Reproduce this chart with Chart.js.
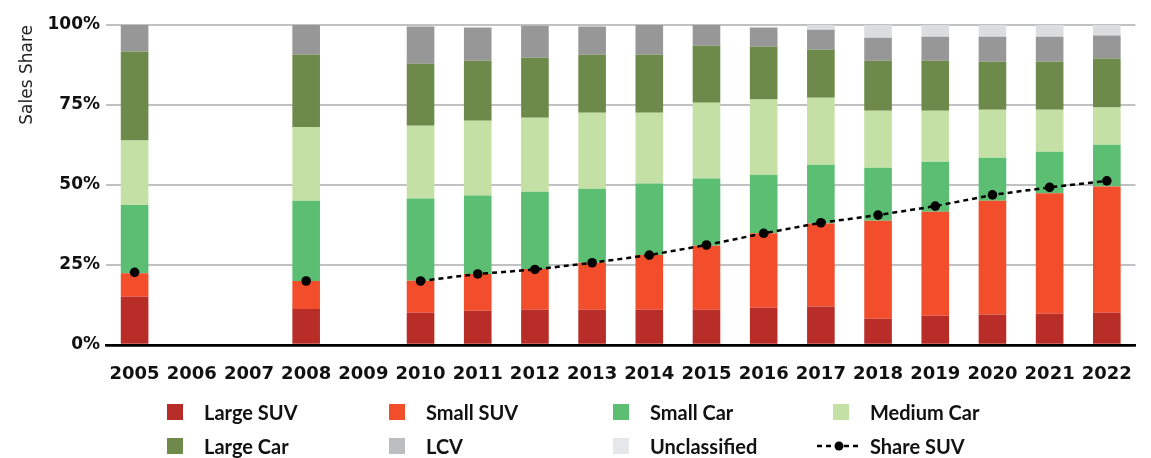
<!DOCTYPE html>
<html><head><meta charset="utf-8">
<script src="https://cdn.jsdelivr.net/npm/chart.js@4.4.0/dist/chart.umd.min.js"></script>
<style>
html,body{margin:0;padding:0;background:#fff;}
#wrap{position:relative;width:1151px;height:458px;overflow:hidden;}
#c{position:absolute;left:0;top:0;}
.li{position:absolute;font-family:Lato,sans-serif;font-weight:700;font-size:20px;color:#111;white-space:nowrap;line-height:20px;}
.box{position:absolute;width:16px;height:16px;}
</style></head><body>
<div id="wrap"><canvas id="c" width="1151" height="458"></canvas><div id="legend"></div></div>
<script>
const years = ['2005','2006','2007','2008','2009','2010','2011','2012','2013','2014','2015','2016','2017','2018','2019','2020','2021','2022'];
const largeSUV     = [15.1, null, null, 11.25, null, 10.1, 10.7, 11.0, 11.0, 11.0, 11.0, 11.65, 12.0, 8.2, 9.15, 9.5, 9.8, 10.1];
const smallSUV     = [7.3, null, null, 8.75, null, 10.0, 11.5, 12.75, 14.7, 17.1, 20.0, 23.25, 26.0, 30.6, 32.5, 35.6, 37.6, 39.4];
const smallCar     = [21.35, null, null, 25.1, null, 25.7, 24.5, 24.15, 23.1, 22.4, 21.0, 18.3, 18.3, 16.6, 15.65, 13.4, 13.0, 13.1];
const mediumCar    = [20.15, null, null, 23.0, null, 22.7, 23.4, 23.1, 23.8, 22.1, 23.7, 23.5, 21.0, 17.8, 15.9, 15.0, 13.1, 11.6];
const largeCar     = [27.8, null, null, 22.7, null, 19.4, 18.7, 18.8, 18.1, 18.1, 17.8, 16.5, 15.0, 15.6, 15.6, 15.0, 15.0, 15.3];
const lcv          = [8.3, null, null, 9.2, null, 11.6, 10.4, 10.0, 8.8, 9.3, 6.5, 6.0, 6.2, 7.2, 7.5, 7.8, 7.8, 7.2];
const unclassified = [0, null, null, 0, null, 0, 0, 0, 0, 0, 0, 0, 1.5, 4.0, 3.7, 3.7, 3.7, 3.3];
const shareSUV     = [22.7, null, null, 20.0, null, 20.0, 22.2, 23.6, 25.7, 28.1, 31.25, 34.9, 38.2, 40.6, 43.4, 46.9, 49.25, 51.3];
const yTicks = [0, 25, 50, 75, 100];

const colors = {
  largeSUV:'#b92d28', smallSUV:'#f24e2b', smallCar:'#5bbe72', mediumCar:'#c5e0a5',
  largeCar:'#6e8a4a', lcv:'#979797', unclassified:'#dcdddf'
};
const legendColors = {
  largeSUV:'#b92d28', smallSUV:'#f24e2b', smallCar:'#5bbe72', mediumCar:'#c5e0a5',
  largeCar:'#6e8a4a', lcv:'#bdbec0', unclassified:'#e6e7e8'
};

function bar(label, data, key){
  return {type:'bar', label, data, backgroundColor:colors[key], borderWidth:0, order:1,
          categoryPercentage:0.483, barPercentage:1};
}

function draw(){
const datasets = [
  bar('Large SUV', largeSUV, 'largeSUV'),
  bar('Small SUV', smallSUV, 'smallSUV'),
  bar('Small Car', smallCar, 'smallCar'),
  bar('Medium Car', mediumCar, 'mediumCar'),
  bar('Large Car', largeCar, 'largeCar'),
  bar('LCV', lcv, 'lcv'),
  bar('Unclassified', unclassified, 'unclassified'),
  {type:'line', label:'Share SUV', data:shareSUV, borderColor:'#000', backgroundColor:'#000',
   borderWidth:2.5, borderDash:[5,4], pointRadius:4.8, pointBorderWidth:0, pointBackgroundColor:'#000',
   spanGaps:false, order:0, stack:'suvline', tension:0}
];

new Chart(document.getElementById('c'), {
  data:{labels:years, datasets},
  options:{
    responsive:false, animation:false,
    layout:{padding:{left:0, right:1, top:25, bottom:68}},
    plugins:{legend:{display:false}, tooltip:{enabled:false}},
    scales:{
      x:{stacked:true, grid:{display:false, drawTicks:false},
         border:{display:true, color:'#000', width:2.5},
         ticks:{font:{family:'DejaVu Sans', weight:'bold', size:18}, color:'#111', padding:19, maxRotation:0, autoSkip:false},
         afterFit:(s)=>{s.height=45;}},
      y:{stacked:true, min:0, max:100,
         afterBuildTicks:(s)=>{s.ticks = yTicks.map(v=>({value:v}));},
         ticks:{font:{family:'DejaVu Sans', weight:'bold', size:17}, color:'#111', padding:6, callback:(v)=>v+'%'},
         grid:{drawTicks:false, color:(c)=>c.tick && c.tick.value===0 ? '#000' : '#c0c1c3',
               lineWidth:(c)=>c.tick && c.tick.value===0 ? 2.5 : 2},
         border:{display:false},
         title:{display:true, text:'Sales Share', align:'end', color:'#222',
                font:{family:'DejaVu Sans', size:17, weight:'normal'}, padding:{top:17,bottom:0}},
         afterFit:(s)=>{s.width=106;}}
    }
  }
});
}

// HTML legend
const legendItems = [
  ['Large SUV','largeSUV',0,0],['Small SUV','smallSUV',1,0],['Small Car','smallCar',2,0],['Medium Car','mediumCar',3,0],
  ['Large Car','largeCar',0,1],['LCV','lcv',1,1],['Unclassified','unclassified',2,1],['Share SUV','line',3,1]
];
const colX = [167, 389, 613, 833];
const rowY = [412, 446];
const leg = document.getElementById('legend');
legendItems.forEach(([label,key,col,row])=>{
  const cy = rowY[row];
  if (key === 'line') {
    const cv = document.createElement('canvas');
    cv.width = 46; cv.height = 12;
    cv.style.position='absolute'; cv.style.left=(816)+'px'; cv.style.top=(cy-6)+'px';
    const g = cv.getContext('2d');
    g.strokeStyle='#000'; g.lineWidth=2.5; g.setLineDash([5,4]);
    g.beginPath(); g.moveTo(1,6); g.lineTo(45,6); g.stroke();
    g.fillStyle='#000'; g.beginPath(); g.arc(23,6,4.5,0,Math.PI*2); g.fill();
    leg.appendChild(cv);
  } else {
    const b = document.createElement('div');
    b.className='box'; b.style.left=colX[col]+'px'; b.style.top=(cy-8)+'px';
    b.style.background=legendColors[key];
    leg.appendChild(b);
  }
  const t = document.createElement('div');
  t.className='li'; t.textContent=label;
  t.style.left=(key==='line'?870:colX[col]+37)+'px'; t.style.top=(cy-10)+'px';
  leg.appendChild(t);
});

Promise.all([
  document.fonts.load('bold 18px "DejaVu Sans"'),
  document.fonts.load('17px "DejaVu Sans"'),
  document.fonts.load('bold 20px Lato')
]).then(draw, draw);
</script>
</body></html>
